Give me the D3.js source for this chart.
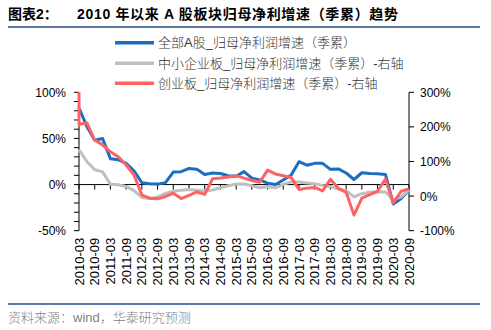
<!DOCTYPE html>
<html><head><meta charset="utf-8">
<script src="https://cdn.jsdelivr.net/npm/d3@7"></script>
<style>
html,body{margin:0;padding:0;background:#fff;}
svg{display:block;font-family:"Liberation Sans",Arial,"Noto Sans CJK SC",sans-serif;}
</style></head>
<body>
<svg id="c" width="491" height="330"></svg>
<script>
const titleText = "图表2：";
const titleRest = "2010 年以来 A 股板块归母净利增速（季累）趋势";
const sourceText = "资料来源：wind，华泰研究预测";

const years = d3.range(2010, 2021);
const quarters = ["03","06","09","12"];
const categories = [];
years.forEach(y => quarters.forEach(q => { if (!(y === 2020 && q === "12")) categories.push(y + "-" + q); }));

const seriesNames = [
  "全部A股_归母净利润增速（季累）",
  "中小企业板_归母净利润增速（季累）-右轴",
  "创业板_归母净利润增速（季累）-右轴"
];
// 全部A股 (left axis, %)
const allA = [83,63,48,50,28,27,23,15,2,1,0.5,2,13.5,14,17.5,16.5,11,12.5,12,9.5,9,14,7,5,1.5,0,5,10.4,24.8,21,23,23,16.5,17,12.5,5.5,12.8,12,11.8,11,-21,-15,-6];
// 中小企业板 (right axis, %)
const sme = [134,100,76,70,34,33,28,16,-4,-7,-3,8,14,17,19,17,15,17.6,24,30,35,35,30,24,27,24,34,41,41,38,36,31,27,21,15,-2,7,11,12.7,12,-11,-2,17];
// 创业板 (right axis, %)
const gem = [207,212,162,148,128,114,90,61,3,-6,-8,-1,8,-7,2,12,5,50,52,55,59,52,45,40,75,64,59,54,19,23,25,15,48.5,22.5,11,-55,-6,4,14,49,-20,14,21];
const gemEntry = 300; // red line enters from above the chart at the first category

const leftTicks = [-50,0,50,100];
const leftMinor = d3.range(-50,101,10);
const rightTicks = [-100,0,100,200,300];
const colors = ["#1a6fc0","#bfbfbf","#ff6262"];

const svg = d3.select("#c");
const pTop = 92.3, pBottom = 230.7, pLeft = 79, pRight = 409;

const x = d3.scalePoint().domain(categories).range([pLeft, pRight]);
const yL = d3.scaleLinear().domain([-50,100]).range([pBottom, pTop]);
const yR = d3.scaleLinear().domain([-100,300]).range([pBottom, pTop]);

// title
svg.append("text").attr("x",8).attr("y",19).attr("font-size",14).attr("font-weight","bold").attr("fill","#000").text(titleText);
svg.append("text").attr("x",77).attr("y",19).attr("font-size",14).attr("font-weight","bold").attr("fill","#000")
  .attr("textLength",321).attr("lengthAdjust","spacing").text(titleRest);
svg.append("line").attr("x1",8).attr("x2",480).attr("y1",27).attr("y2",27).attr("stroke","#5b7ba6").attr("stroke-width",2);

// legend
const legY = [42.7, 63.3, 83.3];
seriesNames.forEach((n,i)=>{
  svg.append("line").attr("x1",115).attr("x2",154).attr("y1",legY[i]).attr("y2",legY[i]).attr("stroke",colors[i]).attr("stroke-width",3.5);
  svg.append("text").attr("x",158).attr("y",legY[i]+4.5).attr("font-size",13).attr("font-weight",300).attr("fill","#333").text(n);
});

// left axis
const gL = svg.append("g").attr("transform",`translate(${pLeft},0)`);
gL.append("line").attr("x1",0).attr("x2",0).attr("y1",yL(-50)).attr("y2",yL(100)).attr("stroke","#000");
gL.selectAll(".mt").data(leftMinor).enter().append("line").attr("x1",-5).attr("x2",0).attr("y1",d=>yL(d)).attr("y2",d=>yL(d)).attr("stroke","#000");
gL.selectAll(".lb").data(leftTicks).enter().append("text").attr("x",-13).attr("y",d=>yL(d)+4.5).attr("text-anchor","end").attr("font-size",12).attr("fill","#000").text(d=>d+"%");

// right axis
const gR = svg.append("g").attr("transform",`translate(${pRight},0)`);
gR.append("line").attr("x1",0).attr("x2",0).attr("y1",yR(-100)).attr("y2",yR(300)).attr("stroke","#000");
gR.selectAll(".mt").data(rightTicks).enter().append("line").attr("x1",0).attr("x2",5).attr("y1",d=>yR(d)).attr("y2",d=>yR(d)).attr("stroke","#000");
gR.selectAll(".lb").data(rightTicks).enter().append("text").attr("x",11).attr("y",d=>yR(d)+4.5).attr("text-anchor","start").attr("font-size",12).attr("fill","#000").text(d=>d+"%");

// x axis at zero
const y0 = yL(0);
svg.append("line").attr("x1",pLeft).attr("x2",pRight).attr("y1",y0).attr("y2",y0).attr("stroke","#000");
const tickCats = categories.filter((c,i)=>i%2===0);
svg.selectAll(".xt").data(tickCats).enter().append("line").attr("x1",d=>x(d)).attr("x2",d=>x(d)).attr("y1",y0).attr("y2",y0+5).attr("stroke","#000");
svg.selectAll(".xl").data(tickCats).enter().append("text")
  .attr("transform",d=>`translate(${x(d)+4.5},${pBottom+7}) rotate(-90)`)
  .attr("text-anchor","end").attr("font-size",13).attr("fill","#000").text(d=>d);

// series
const lineL = d3.line().x((d,i)=>x(categories[i])).y(d=>yL(d));
const lineR = d3.line().x((d,i)=>x(categories[i])).y(d=>yR(d));
svg.append("path").attr("d",lineL(allA)).attr("fill","none").attr("stroke",colors[0]).attr("stroke-width",3).attr("stroke-linejoin","round");
svg.append("path").attr("d",lineR(sme)).attr("fill","none").attr("stroke",colors[1]).attr("stroke-width",3).attr("stroke-linejoin","round");
const gemPts = [[x(categories[0]), yR(gemEntry)]].concat(gem.map((d,i)=>[x(categories[i]), yR(d)]));
svg.append("path").attr("d",d3.line()(gemPts)).attr("fill","none").attr("stroke",colors[2]).attr("stroke-width",3).attr("stroke-linejoin","round");

// bottom rule and source
svg.append("line").attr("x1",8).attr("x2",480).attr("y1",304).attr("y2",304).attr("stroke","#5b7ba6").attr("stroke-width",2);
svg.append("text").attr("x",8).attr("y",322).attr("font-size",13).attr("font-weight",300).attr("fill","#7f7f7f").text(sourceText);
</script>
</body></html>
